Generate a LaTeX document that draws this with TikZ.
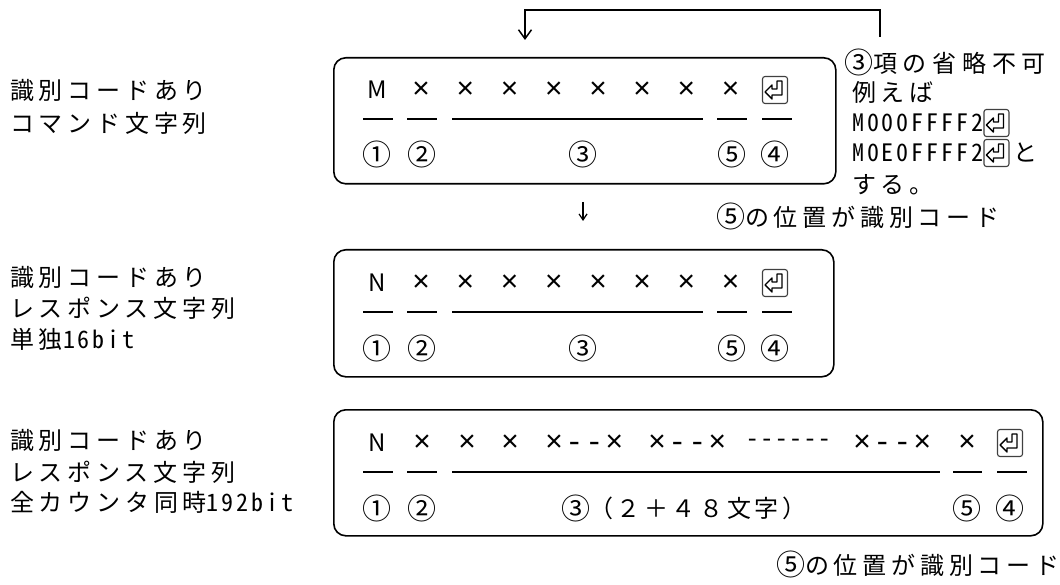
\documentclass[tikz,border=0pt]{standalone}
\usepackage{fontspec}
\usetikzlibrary{arrows.meta,calc}
\newfontfamily\jp[LetterSpace=20]{Noto Sans CJK JP}
\newfontfamily\jpt[LetterSpace=24]{Noto Sans CJK JP}
\newfontfamily\jpc[LetterSpace=15]{Noto Sans CJK JP}
\newfontfamily\jpn{Noto Sans CJK JP}
\newfontfamily\jpl[RawFeature=+hwid,LetterSpace=12]{Noto Sans CJK JP}
\newfontfamily\monx[LetterSpace=7]{Liberation Mono}
\newfontfamily\mond{Liberation Mono}
\newcommand{\cnum}[1]{\smash{\raisebox{-1.5pt}{\jpn\fontsize{29}{29}\selectfont #1}}}
\tikzset{
  box/.style={draw, line width=1.6pt, rounded corners=12pt, anchor=north west, inner sep=0pt},
  uline/.style={line width=1.6pt},
  conn/.style={line width=1.5pt},
  txt/.style={inner sep=0pt, anchor=west, font=\jp\fontsize{24}{29}\selectfont},
  glyph/.style={inner sep=0pt, font=\jpn\fontsize{24}{29}\selectfont},
  cross/.style={inner sep=0pt, font=\mond\fontsize{30}{29}\selectfont},
  crossgrp/.style={inner sep=0pt, anchor=west, font=\monx\fontsize{30}{29}\selectfont},
  circ/.style={inner sep=0pt, font=\jpn\fontsize{29}{29}\selectfont},
  retsym/.pic={
    \draw[rounded corners=2.5pt, line width=1.1pt, black!75] (-12.5,-13.5) rectangle (12.5,13.5);
    \draw[line width=1.4pt, line join=round] (2,-9) -- (7,-9) -- (7,5) -- (-3,5) -- (-3,9) -- (-10,2) -- (-3,-5) -- (-3,-1) -- (2,-1) -- cycle;
  }
}
\begin{document}
\begin{tikzpicture}[x=1pt,y=-1pt]
\useasboundingbox (0,0) rectangle (1060,585);

% ---------- left labels ----------
\node[txt] (l1a) at (10,90) {識別コードあり};
\node[txt] (l1b) at (10,123) {コマンド文字列};
\node[txt] (l2a) at (10,277) {識別コードあり};
\node[txt] (l2b) at (10,308) {レスポンス文字列};
\node[txt] (l2c) at (10,339) {単独{\jpl 16bit}};
\node[txt] (l3a) at (10,440) {識別コードあり};
\node[txt] (l3b) at (10,472) {レスポンス文字列};
\node[txt] (l3c) at (10,502) {全カウンタ同時{\jpl 192bit}};

% ---------- box 1 ----------
\node[box, minimum width=502pt, minimum height=126pt] (box1) at (333,57) {};
\node[glyph] (b1c0) at (377,90) {M};
\foreach \i in {1,...,8} \node[cross] (b1c\i) at (377+44.2*\i,90) {×};
\pic (b1r) at (775,90) {retsym};
\draw[uline] (363,119) -- (393,119);
\draw[uline] (407,119) -- (437,119);
\draw[uline] (452,119) -- (703,119);
\draw[uline] (717,119) -- (747,119);
\draw[uline] (762,119) -- (792,119);
\node[circ] (b1n1) at (377,154) {①};
\node[circ] (b1n2) at (422,154) {②};
\node[circ] (b1n3) at (583,154) {③};
\node[circ] (b1n5) at (732,154) {⑤};
\node[circ] (b1n4) at (775,154) {④};

% ---------- feedback connector ----------
\coordinate (fbs) at (880,37);
\coordinate (fbe) at (525,40);
\draw[conn, -{Straight Barb[length=9pt,width=13pt]}] (fbs) -- ++(0,-27) -| (fbe);

% ---------- annotation ----------
\node[txt, font=\jpt\fontsize{24}{29}\selectfont] (n1) at (844,63) {\cnum{③}項の省略不可};
\node[txt] (n2) at (852,92) {例えば};
\node[txt] (n3) at (852,123) {\jpl M000FFFF2};
\pic (n3r) at ($(n3.east)+(13,0)$) {retsym};
\node[txt] (n4) at (852,153) {\jpl M0E0FFFF2};
\pic (n4r) at ($(n4.east)+(13,0)$) {retsym};
\node[txt] (n4b) at ($(n4.east)+(30,0)$) {と};
\node[txt] (n5) at (852,185) {する。};
\node[txt] (n6) at (716,217) {\cnum{⑤}の位置が識別コード};

% ---------- down arrow ----------
\coordinate (da1) at (583,202);
\coordinate (da2) at (583,221);
\draw[conn, line width=1.2pt, -{Straight Barb[length=6pt,width=8pt]}] (da1) -- (da2);

% ---------- box 2 ----------
\node[box, minimum width=500pt, minimum height=127pt] (box2) at (333,249) {};
\node[glyph] (b2c0) at (377,283) {N};
\foreach \i in {1,...,8} \node[cross] (b2c\i) at (377+44.2*\i,283) {×};
\pic (b2r) at (775,283) {retsym};
\draw[uline] (363,312) -- (393,312);
\draw[uline] (407,312) -- (437,312);
\draw[uline] (452,312) -- (703,312);
\draw[uline] (717,312) -- (747,312);
\draw[uline] (762,312) -- (792,312);
\node[circ] (b2n1) at (377,348) {①};
\node[circ] (b2n2) at (422,348) {②};
\node[circ] (b2n3) at (583,348) {③};
\node[circ] (b2n5) at (732,348) {⑤};
\node[circ] (b2n4) at (775,348) {④};

% ---------- box 3 ----------
\node[box, minimum width=709pt, minimum height=126pt] (box3) at (333,409) {};
\node[glyph] (b3c0) at (377,443) {N};
\node[cross] (b3c1) at (422,443) {×};
\node[cross] (b3c2) at (467,443) {×};
\node[cross] (b3c3) at (510,443) {×};
\node[crossgrp] (b3g1) at (545,443) {×--×};
\node[crossgrp] (b3g2) at (648,443) {×--×};
\node[cross, anchor=west, font=\mond\fontsize{24}{29}\selectfont] (b3g3) at (745,443) {------};
\node[crossgrp] (b3g4) at (853,443) {×--×};
\node[cross] (b3c5) at (967,443) {×};
\pic (b3r) at (1010,443) {retsym};
\draw[uline] (363,472) -- (393,472);
\draw[uline] (407,472) -- (437,472);
\draw[uline] (452,472) -- (940,472);
\draw[uline] (953,472) -- (982,472);
\draw[uline] (997,472) -- (1027,472);
\node[circ] (b3n1) at (377,508) {①};
\node[circ] (b3n2) at (422,508) {②};
\node[circ] (b3n3) at (576,508) {③};
\node[glyph, anchor=west, font=\jpc\fontsize{24}{29}\selectfont] (b3n3t) at (589,508) {（２＋４８文字）};
\node[circ] (b3n5) at (967,508) {⑤};
\node[circ] (b3n4) at (1010,508) {④};

\node[txt] (n7) at (776,565) {\cnum{⑤}の位置が識別コード};
\end{tikzpicture}
\end{document}
